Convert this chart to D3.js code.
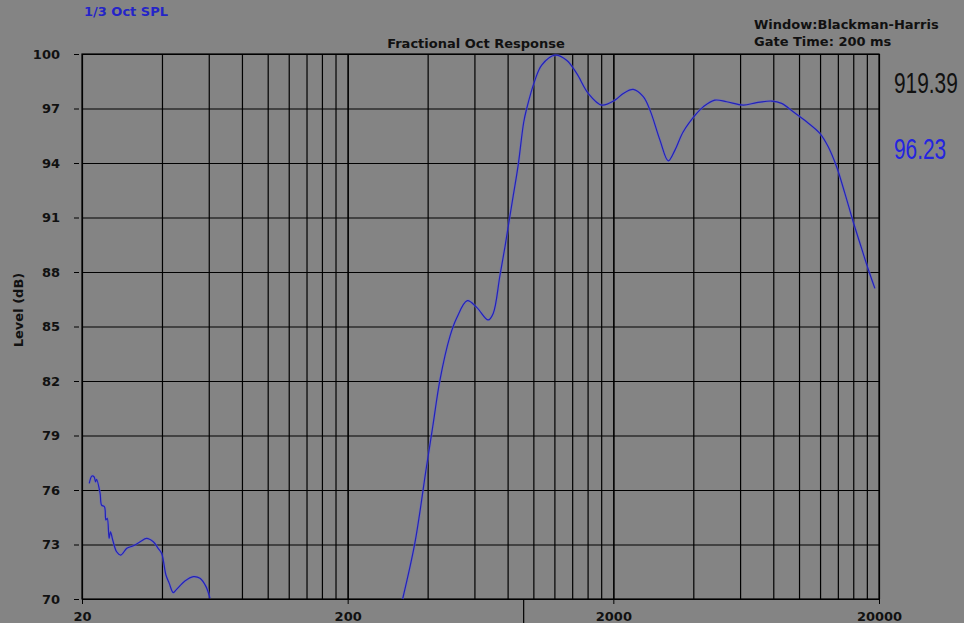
<!DOCTYPE html>
<html lang="en">

<head>
    <meta charset="UTF-8">
    <title>Fractional Oct Response</title>
    <script src="https://d3js.org/d3.v7.min.js"></script>

    <style>
        body {
            margin: 0;
            background-color: #848484;
        }

        svg {
            display: block;
        }

        text {
            font-family: "DejaVu Sans", Verdana, sans-serif;
            font-weight: bold;
            font-size: 13px;
            fill: #111;
        }

        .grid line {
            stroke: #000;
            stroke-width: 1.2;
        }
    </style>

</head>

<body>
    <svg id="chart"></svg>

    <script>
        // frequency response (Hz, dB); null = gap below 70 dB
        const freqs = [21.3, 21.8, 22.2, 22.5, 22.7, 23.4, 23.7, 24.3, 24.6, 24.9, 25.3, 25.6, 26.1, 27.0, 28.0,
            29.5, 31.2, 33.1, 35.0, 37.1, 38.7, 39.9, 41.4, 42.6, 44.1, 45.4, 48.8, 52.5, 55.6, 58.6, 60.6,
            100,
            322, 358, 396, 418, 445, 485, 514, 564, 612, 676, 706, 748, 782, 804, 840, 877, 919.39, 944, 1014, 1075,
            1206, 1334, 1456, 1610, 1806, 2028, 2180, 2377, 2592, 2748, 2996, 3220, 3412, 3666, 4118,
            4358, 4820, 5340, 6166, 6924, 7888, 8600, 9508, 10680, 11980, 12880, 13850, 14880, 16000,
            17200, 18220, 19300];
        const levels = [76.37, 76.77, 76.73, 76.45, 76.59, 75.82, 75.17, 75.08, 74.35, 74.44, 73.34, 73.70, 73.25, 72.60, 72.42,
            72.79, 72.93, 73.15, 73.34, 73.15, 72.79, 72.51, 71.32, 70.86, 70.35, 70.53, 70.99, 71.23, 71.14, 70.68, 70.04,
            null,
            70.0, 73.07, 77.28, 79.48, 82.05, 84.44, 85.45, 86.42, 86.05, 85.36, 85.72, 87.78, 89.39, 90.5, 92.2, 93.9, 96.23, 97.0, 98.56, 99.39,
            99.94, 99.66, 98.93, 97.83, 97.19, 97.46, 97.83, 98.05, 97.65, 96.91, 95.26, 94.12, 94.71, 95.72, 96.73,
            97.09, 97.46, 97.37, 97.19, 97.32, 97.41, 97.28, 96.82, 96.27, 95.63, 94.89, 93.79, 92.33, 90.75,
            89.3, 88.15, 87.10];

        const xTicks = [20, 200, 2000, 20000];
        const yTicks = [70, 73, 76, 79, 82, 85, 88, 91, 94, 97, 100];
        const cursorFreq = 919.39;
        const cursorLevel = 96.23;

        const W = 964, H = 623;
        const margin = { top: 54, right: 85, bottom: 24, left: 82 },
            width = W - margin.left - margin.right,
            height = H - margin.top - margin.bottom;

        const svg = d3.select("#chart")
            .attr("width", W)
            .attr("height", H);

        const x = d3.scaleLog().domain([20, 20000]).range([margin.left, margin.left + width]);
        const y = d3.scaleLinear().domain([70, 100]).range([margin.top + height, margin.top]);

        // grid lines at 2,4,6,8,10 x decade
        const gridF = [];
        [20, 200, 2000].forEach(d => d3.range(1, 11).forEach(k => gridF.push(d * k)));

        svg.append("g")
            .attr("class", "grid")
            .attr("transform", `translate(0,${margin.top + height})`)
            .call(d3.axisBottom(x).tickValues(gridF).tickSize(-height).tickFormat(""))
            .call(g => g.select(".domain").remove());

        svg.append("g")
            .attr("class", "grid")
            .attr("transform", `translate(${margin.left},0)`)
            .call(d3.axisLeft(y).tickValues(yTicks).tickSize(-width).tickFormat(""))
            .call(g => g.select(".domain").remove());

        svg.append("rect")
            .attr("x", margin.left).attr("y", margin.top)
            .attr("width", width).attr("height", height)
            .attr("fill", "none").attr("stroke", "#000").attr("stroke-width", 1.2);

        // axes with labels
        const yAxis = svg.append("g")
            .attr("transform", `translate(${margin.left - 3},0)`)
            .call(d3.axisLeft(y).tickValues(yTicks).tickSize(5).tickPadding(14).tickFormat(d3.format("d")))
            .call(g => g.select(".domain").remove());
        yAxis.selectAll("line").attr("stroke", "#000");
        yAxis.selectAll("text").attr("fill", "#111");

        const xAxis = svg.append("g")
            .attr("transform", `translate(0,${margin.top + height})`)
            .call(d3.axisBottom(x).tickValues(xTicks).tickSize(5).tickPadding(8).tickFormat(d3.format("d")))
            .call(g => g.select(".domain").remove());
        xAxis.selectAll("line").attr("stroke", "#000");
        xAxis.selectAll("text").attr("fill", "#111");

        // cursor marker under the axis
        svg.append("line")
            .attr("x1", x(cursorFreq)).attr("x2", x(cursorFreq))
            .attr("y1", margin.top + height).attr("y2", H)
            .attr("stroke", "#000").attr("stroke-width", 1.2);

        // response curve
        const pts = freqs.map((f, i) => [f, levels[i]]);
        const line = d3.line()
            .defined(d => d[1] != null)
            .x(d => x(d[0]))
            .y(d => y(d[1]))
            .curve(d3.curveCatmullRom.alpha(0.5));

        svg.append("path")
            .datum(pts)
            .attr("fill", "none")
            .attr("stroke", "#6a6ad0")
            .attr("stroke-opacity", 0.5)
            .attr("stroke-width", 2.6)
            .attr("d", line);

        svg.append("path")
            .datum(pts)
            .attr("fill", "none")
            .attr("stroke", "#2222b8")
            .attr("stroke-width", 1.2)
            .attr("d", line);

        // texts
        svg.append("text")
            .attr("x", 84).attr("y", 16)
            .style("fill", "#2424c8")
            .text("1/3 Oct SPL");

        svg.append("text")
            .attr("x", 476).attr("y", 48)
            .attr("text-anchor", "middle")
            .text("Fractional Oct Response");

        svg.append("text")
            .attr("x", 754).attr("y", 29)
            .text("Window:Blackman-Harris");
        svg.append("text")
            .attr("x", 754).attr("y", 46)
            .text("Gate Time: 200 ms");

        svg.append("text")
            .attr("transform", "translate(23,310) rotate(-90)")
            .attr("text-anchor", "middle")
            .text("Level (dB)");

        // readouts in a condensed face: squeeze a normal face horizontally
        svg.append("text")
            .attr("transform", "translate(894,93) scale(0.72,1)")
            .style("font-family", "'Liberation Sans', Arial, sans-serif")
            .style("font-weight", "normal")
            .style("font-size", "29px")
            .text(d3.format(".2f")(cursorFreq));

        svg.append("text")
            .attr("transform", "translate(894,159) scale(0.72,1)")
            .style("font-family", "'Liberation Sans', Arial, sans-serif")
            .style("font-weight", "normal")
            .style("font-size", "29px")
            .style("fill", "#2424e0")
            .text(d3.format(".2f")(cursorLevel));
    </script>

</body>

</html>
